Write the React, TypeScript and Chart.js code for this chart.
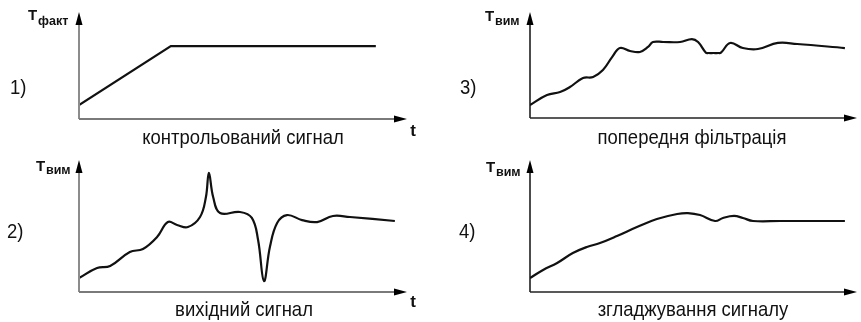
import React, { useEffect, useRef } from "react";
import { Chart, registerables } from "chart.js";

Chart.register(...registerables);

// 1) controlled signal: ramp then plateau
const controlledT = [0, 28, 90.5];
const controlledV = [13.1, 68.2, 68.2];

// 2) raw output signal with a spike and a dip
const outputT = [0, 5.5, 9.5, 15.5, 19.5, 23.8, 27.1, 29.9, 33.2, 36.9, 38.7, 39.6, 40.9, 43.0, 49.1, 52.7, 54.6, 56.4, 58.2, 60.4, 63.4, 68.0, 72.6, 77.4, 82.6, 96.3];
const outputV = [10.6, 18.2, 19.7, 30.3, 32.6, 41.7, 53.0, 50.8, 49.2, 56.8, 72.0, 90.2, 72.0, 59.8, 60.6, 56.1, 39.4, 8.3, 34.1, 52.3, 58.3, 54.5, 53.0, 57.6, 56.8, 53.8];

// 3) after pre-filtering (the spike and dip are clipped to flat runs)
const filteredT = [0, 5.2, 9.2, 12.2, 16.2, 19.3, 22.3, 25.1, 27.5, 30.6, 33.6, 36.1, 37.6, 40.7, 45.9, 49.5, 51.4, 53.8, 54.6, 56.1, 57.6, 58.4, 61.2, 65.1, 69.7, 75.8, 81.7, 96.3];
const filteredV = [12.3, 21.7, 24.5, 29.2, 37.7, 38.7, 45.3, 57.5, 66.0, 63.2, 62.3, 67.0, 71.7, 71.7, 71.7, 74.5, 71.7, 61.6, 61.3, 61.3, 61.3, 61.6, 70.8, 66.0, 65.1, 70.8, 69.8, 66.0];

// 4) after smoothing
const smoothedT = [0, 4.0, 8.3, 13.1, 17.4, 21.4, 26.6, 32.7, 38.8, 45.0, 48.3, 52.0, 56.6, 59.0, 62.4, 65.1, 68.2, 76.5, 96.3];
const smoothedV = [10.6, 16.7, 22.0, 29.5, 34.1, 37.1, 42.4, 49.2, 55.3, 59.1, 59.8, 58.3, 53.8, 56.1, 57.6, 56.1, 53.8, 53.8, 53.8];

const W = 861;
const H = 322;
const TEXT_FONT = '"Liberation Sans", Arial, sans-serif';
// captions are set in a condensed face: regular sans squeezed horizontally
const CONDENSE = 0.88;

type Decor = {
  num: string; numX: number; numY: number;
  sym: string; sub: string; symX: number; symY: number; subX: number; subY: number;
  caption: string; capX: number; capY: number;
  tLabel: boolean; tX: number; tY: number;
  axisY: string; axisX: string; axisW: number;
};

type Panel = {
  t: number[]; v: number[]; smooth: boolean;
  area: { left: number; right: number; top: number; bottom: number };
  decor: Decor;
};

const panels: Panel[] = [
  {
    t: controlledT, v: controlledV, smooth: false,
    area: { left: 79, right: 407, top: 12, bottom: 119 },
    decor: {
      num: "1)", numX: 10, numY: 94,
      sym: "Т", sub: "факт", symX: 28, symY: 20, subX: 38, subY: 25,
      caption: "контрольований сигнал", capX: 243, capY: 144,
      tLabel: true, tX: 413, tY: 136,
      axisY: "#8c8c8c", axisX: "#7a7a7a", axisW: 2,
    },
  },
  {
    t: outputT, v: outputV, smooth: true,
    area: { left: 79, right: 407, top: 160, bottom: 292 },
    decor: {
      num: "2)", numX: 7, numY: 238,
      sym: "Т", sub: "вим", symX: 36, symY: 171, subX: 46, subY: 174,
      caption: "вихідний сигнал", capX: 244, capY: 316,
      tLabel: true, tX: 413, tY: 307,
      axisY: "#8c8c8c", axisX: "#7a7a7a", axisW: 2,
    },
  },
  {
    t: filteredT, v: filteredV, smooth: true,
    area: { left: 530, right: 857, top: 12, bottom: 118 },
    decor: {
      num: "3)", numX: 460, numY: 94,
      sym: "Т", sub: "вим", symX: 485, symY: 21, subX: 495, subY: 25,
      caption: "попередня фільтрація", capX: 692, capY: 144,
      tLabel: false, tX: 0, tY: 0,
      axisY: "#111", axisX: "#222", axisW: 1.5,
    },
  },
  {
    t: smoothedT, v: smoothedV, smooth: true,
    area: { left: 530, right: 857, top: 160, bottom: 292 },
    decor: {
      num: "4)", numX: 459, numY: 238,
      sym: "Т", sub: "вим", symX: 486, symY: 172, subX: 496, subY: 176,
      caption: "згладжування сигналу", capX: 693, capY: 316,
      tLabel: false, tX: 0, tY: 0,
      axisY: "#111", axisX: "#222", axisW: 1.5,
    },
  },
];

function condensedText(ctx: CanvasRenderingContext2D, text: string, x: number, y: number, align: CanvasTextAlign) {
  ctx.save();
  ctx.translate(x, y);
  ctx.scale(CONDENSE, 1);
  ctx.textAlign = align;
  ctx.fillText(text, 0, 0);
  ctx.restore();
}

// Axes with arrowheads plus the panel number, axis symbol and caption
const decorPlugin = {
  id: "decor",
  afterDraw(chart: any, _args: any, opts: Decor) {
    const { ctx, chartArea: a } = chart;
    ctx.save();
    ctx.lineCap = "butt";

    // vertical axis
    ctx.strokeStyle = opts.axisY;
    ctx.lineWidth = opts.axisW;
    ctx.beginPath();
    ctx.moveTo(a.left, a.bottom);
    ctx.lineTo(a.left, a.top + 10);
    ctx.stroke();
    // horizontal axis
    ctx.strokeStyle = opts.axisX;
    ctx.beginPath();
    ctx.moveTo(a.left, a.bottom);
    ctx.lineTo(a.right - 10, a.bottom);
    ctx.stroke();

    ctx.fillStyle = "#000";
    ctx.beginPath();
    ctx.moveTo(a.left, a.top);
    ctx.lineTo(a.left - 3.5, a.top + 13);
    ctx.lineTo(a.left + 3.5, a.top + 13);
    ctx.closePath();
    ctx.fill();
    ctx.beginPath();
    ctx.moveTo(a.right, a.bottom);
    ctx.lineTo(a.right - 13, a.bottom - 3.5);
    ctx.lineTo(a.right - 13, a.bottom + 3.5);
    ctx.closePath();
    ctx.fill();

    ctx.fillStyle = "#111";
    ctx.textBaseline = "alphabetic";
    ctx.font = `21px ${TEXT_FONT}`;
    condensedText(ctx, opts.num, opts.numX, opts.numY, "left");

    ctx.textAlign = "left";
    ctx.font = `bold 15px ${TEXT_FONT}`;
    ctx.fillText(opts.sym, opts.symX, opts.symY);
    ctx.font = `bold 12.5px ${TEXT_FONT}`;
    ctx.fillText(opts.sub, opts.subX, opts.subY);

    ctx.font = `21px ${TEXT_FONT}`;
    condensedText(ctx, opts.caption, opts.capX, opts.capY, "center");

    if (opts.tLabel) {
      ctx.textAlign = "center";
      ctx.font = `bold 17px ${TEXT_FONT}`;
      ctx.fillText("t", opts.tX, opts.tY);
    }
    ctx.restore();
  },
};

function PanelChart({ panel }: { panel: Panel }) {
  const ref = useRef<HTMLCanvasElement | null>(null);
  useEffect(() => {
    if (!ref.current) return;
    const a = panel.area;
    const chart = new Chart(ref.current, {
      type: "line",
      data: {
        datasets: [
          {
            data: panel.t.map((x, i) => ({ x, y: panel.v[i] })),
            borderColor: "#111",
            borderWidth: 2.2,
            pointRadius: 0,
            fill: false,
            tension: panel.smooth ? 0.4 : 0,
          },
        ],
      },
      options: {
        animation: false,
        responsive: false,
        devicePixelRatio: 1,
        events: [],
        layout: {
          padding: { left: a.left, right: W - a.right, top: a.top, bottom: H - a.bottom },
        },
        scales: {
          x: { type: "linear", min: 0, max: 100, display: false },
          y: { type: "linear", min: 0, max: 100, display: false },
        },
        plugins: {
          legend: { display: false },
          tooltip: { enabled: false },
          decor: panel.decor,
        } as any,
      },
      plugins: [decorPlugin],
    });
    return () => chart.destroy();
  }, [panel]);
  return (
    <canvas
      ref={ref}
      width={W}
      height={H}
      style={{ position: "absolute", left: 0, top: 0, width: W, height: H }}
    />
  );
}

export default function App() {
  return (
    <div style={{ position: "fixed", left: 0, top: 0, width: W, height: H, background: "#fff" }}>
      {panels.map((p, i) => (
        <PanelChart key={i} panel={p} />
      ))}
    </div>
  );
}
